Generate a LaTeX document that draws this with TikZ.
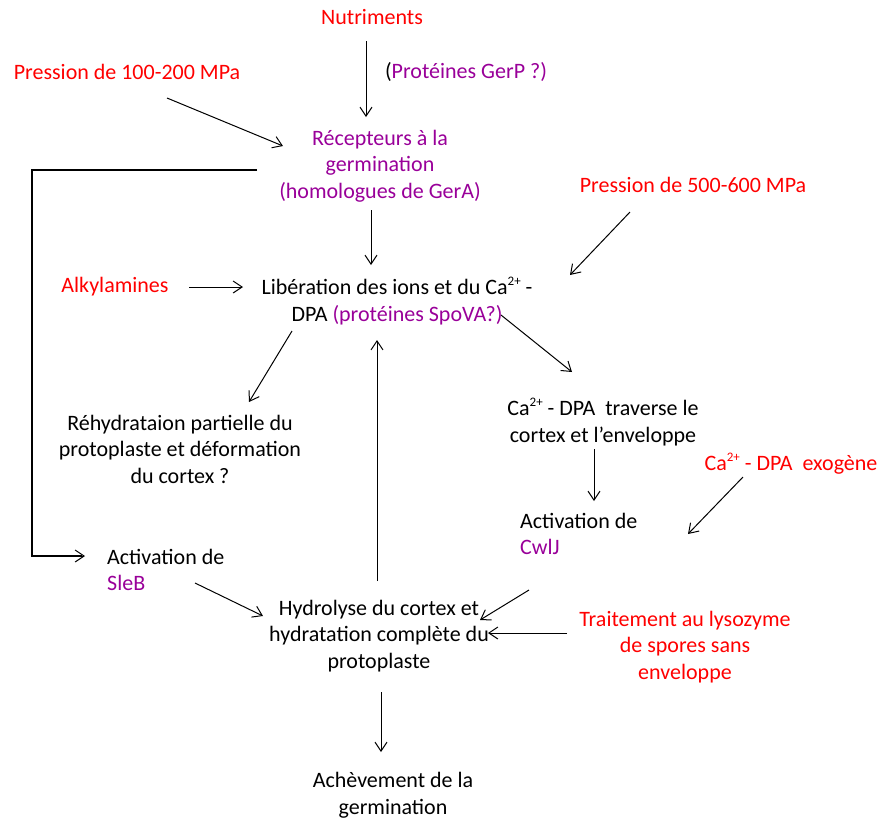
\documentclass[tikz,border=0pt]{standalone}
\usepackage{fontspec}
\setmainfont{Carlito}
\usetikzlibrary{arrows.meta}
\definecolor{rd}{RGB}{255,0,0}
\definecolor{pu}{RGB}{153,0,153}
\newcommand{\mysup}[1]{\raisebox{0.42em}{\fontsize{13}{13}\selectfont #1}}
\tikzset{
  txt/.style={inner sep=0pt, align=center, font=\fontsize{22}{26.5}\selectfont},
  arr/.style={line width=1pt, -{Straight Barb[length=9pt,width=12pt,line width=1pt]}},
  fb/.style={line width=2pt}
}
\begin{document}
\begin{tikzpicture}[x=1pt,y=-1pt]
\useasboundingbox (0,0) rectangle (879,820);
% nodes
\node[txt,text=rd] (nut) at (372,17) {Nutriments};
\node[txt] (gerp) at (466,72) {(\textcolor{pu}{Protéines GerP ?)}};
\node[txt,text=rd] (p100) at (127,72) {Pression de 100-200 MPa};
\node[txt,text=pu] (rec) at (380,166) {Récepteurs à la\\germination\\(homologues de GerA)};
\node[txt,text=rd] (p500) at (693,185) {Pression de 500-600 MPa};
\node[txt,text=rd] (alk) at (115,287) {Alkylamines};
\node[txt] (lib) at (397,301) {Libération des ions et du Ca\mysup{2+} -\\DPA \textcolor{pu}{(protéines SpoVA?)}};
\node[txt] (reh) at (180,449) {Réhydrataion partielle du\\protoplaste et déformation\\du cortex ?};
\node[txt] (cat) at (603,422) {Ca\mysup{2+} - DPA\ \ traverse le\\cortex et l’enveloppe};
\node[txt,text=rd] (exo) at (791,464) {Ca\mysup{2+} - DPA\ \ exogène};
\node[txt,align=left,anchor=west] (cwl) at (520,534) {Activation de\\\textcolor{pu}{CwlJ}};
\node[txt,align=left,anchor=west] (sle) at (107,570) {Activation de\\\textcolor{pu}{SleB}};
\node[txt] (hyd) at (379,636) {Hydrolyse du cortex et\\hydratation complète du\\protoplaste};
\node[txt,text=rd] (tra) at (685,647) {Traitement au lysozyme\\de spores sans\\enveloppe};
\node[txt] (ach) at (393,795) {Achèvement de la\\germination};
% connector end points
\coordinate (a1s) at (366,41);  \coordinate (a1e) at (366,117);
\coordinate (a2s) at (167,98);  \coordinate (a2e) at (283,146);
\coordinate (fbs) at (257,170); \coordinate (fb1) at (32,170); \coordinate (fb2) at (32,556); \coordinate (fbe) at (85,556);
\coordinate (a4s) at (371,210); \coordinate (a4e) at (371,265);
\coordinate (a5s) at (630,212); \coordinate (a5e) at (570,275);
\coordinate (a6s) at (189,287); \coordinate (a6e) at (243,287);
\coordinate (a7s) at (292,331); \coordinate (a7e) at (249,402);
\coordinate (a8s) at (501,315); \coordinate (a8e) at (572,372);
\coordinate (a9s) at (377,581); \coordinate (a9e) at (377,340);
\coordinate (a10s) at (594,449); \coordinate (a10e) at (594,501);
\coordinate (a11s) at (743,477); \coordinate (a11e) at (688,534);
\coordinate (a12s) at (195,583); \coordinate (a12e) at (263,616);
\coordinate (a13s) at (529,590); \coordinate (a13e) at (480,620);
\coordinate (a14s) at (567,633); \coordinate (a14e) at (488,633);
\coordinate (a15s) at (381,692); \coordinate (a15e) at (381,752);
% connectors
\draw[fb] (fbs) -- (fb1) -- (fb2) -- ([xshift=-3pt]fbe);
\draw[arr] (fb2) -- (fbe);
\draw[arr] (a1s) -- (a1e);
\draw[arr] (a2s) -- (a2e);
\draw[arr] (a4s) -- (a4e);
\draw[arr] (a5s) -- (a5e);
\draw[arr] (a6s) -- (a6e);
\draw[arr] (a7s) -- (a7e);
\draw[arr] (a8s) -- (a8e);
\draw[arr] (a9s) -- (a9e);
\draw[arr] (a10s) -- (a10e);
\draw[arr] (a11s) -- (a11e);
\draw[arr] (a12s) -- (a12e);
\draw[arr] (a13s) -- (a13e);
\draw[arr] (a14s) -- (a14e);
\draw[arr] (a15s) -- (a15e);
\end{tikzpicture}
\end{document}
